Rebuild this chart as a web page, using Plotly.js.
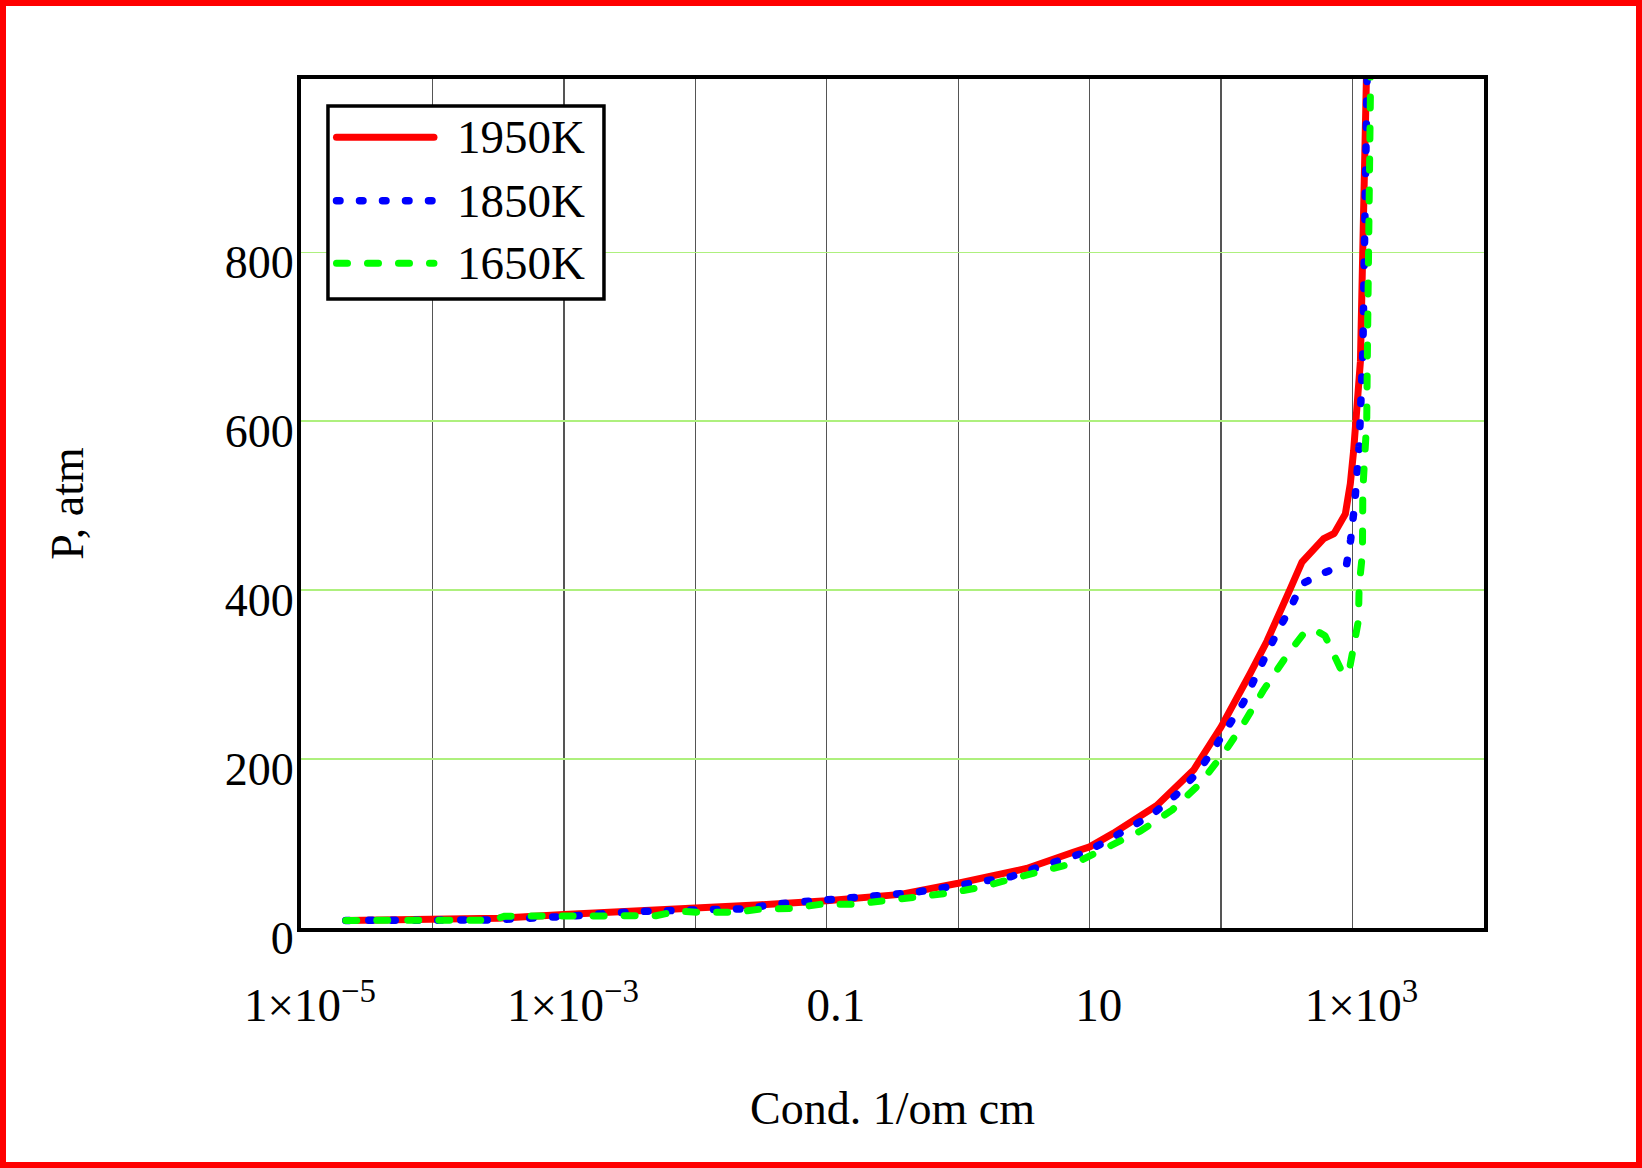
<!DOCTYPE html>
<html>
<head>
<meta charset="utf-8">
<script src="https://cdn.plot.ly/plotly-3.0.1.min.js"></script>
<style>
  html, body { margin: 0; padding: 0; background: #fff; }
  #wrap { position: relative; width: 1642px; height: 1168px; overflow: hidden; }
  #plot { position: absolute; left: 0; top: 0; width: 1642px; height: 1168px; }
  #frame { position: absolute; left: 0; top: 0; width: 1642px; height: 1168px; box-sizing: border-box; border: 6px solid #ff0000; pointer-events: none; }
  .js-line { stroke-linecap: round !important; stroke-linejoin: round !important; }
  .shapelayer path { stroke-linecap: round !important; }
</style>
</head>
<body>
<div id="wrap"><div id="plot"></div><div id="frame"></div></div>
<script>
// ---- data ----
const cond1950 = [2.19e-5, 1e-4, 3.16e-4, 1e-3, 3.16e-3, 0.01, 0.0316, 0.1, 0.363, 1, 3.31, 7.59, 10, 15.1, 32.4, 61.7, 100, 166, 224, 339, 412, 603, 724, 881, 962, 1019, 1094, 1148, 1274, 1288];
const p1950    = [9, 9.6, 11.5, 16, 19.3, 22.8, 27.5, 32.3, 39.8, 53, 70.5, 90, 96, 112, 145, 187, 238, 301, 340, 403, 433, 461, 467, 490, 526, 565, 620, 671, 1004, 1040];

const cond1850 = [2.19e-5, 2.82e-4, 1e-3, 2.24e-3, 3.39e-3, 0.01, 0.0251, 0.038, 0.0891, 0.204, 0.447, 0.692, 1.10, 2.51, 3.72, 5.75, 8.71, 13.2, 20.0, 30.2, 45.7, 66.1, 87.1, 115, 148, 180, 219, 269, 337, 412, 617, 902, 966, 1035, 1122, 1189, 1197, 1288, 1303];
const p1850    = [9, 9.5, 13.6, 18.5, 19.3, 21.5, 22.8, 28, 32.3, 37, 41.7, 46.5, 51.6, 60.7, 70, 79.4, 88.3, 102, 118.6, 134.8, 158, 184, 211, 239, 267, 295, 323, 351, 379, 407.5, 421, 431, 459, 500, 570, 640, 681, 1000, 1040];

const cond1650 = [2.19e-5, 2.82e-4, 3.55e-4, 5.01e-3, 7.41e-3, 0.011, 0.02, 0.0331, 0.0525, 0.0891, 0.158, 0.251, 0.501, 0.891, 1.55, 2.63, 4.73, 7.94, 13.8, 24.3, 42.3, 69.2, 107, 151, 209, 282, 324, 427, 501, 617, 692, 832, 933, 1047, 1109, 1122, 1189, 1197, 1245, 1282, 1294, 1365, 1380];
const p1650    = [9, 9.2, 14, 14.5, 20, 18.5, 18.5, 22.8, 23, 28, 28, 32.3, 37, 41.8, 48.9, 58.7, 67.8, 77.6, 96, 114.7, 139.5, 171, 209, 244, 281, 313, 325, 349, 354, 346, 329, 303, 301, 337, 364, 405, 443, 518, 557, 600, 668, 1002, 1040];

const seriesNames = ['1950K', '1850K', '1650K'];
const xTickVals = [1e-5, 1e-4, 1e-3, 1e-2, 0.1, 1, 10, 100, 1e3, 1e4];
const xTickText = ['1×10<sup>−5</sup>', '', '1×10<sup>−3</sup>', '', '0.1', '', '10', '', '1×10<sup>3</sup>', ''];
const yTickVals = [0, 200, 400, 600, 800];
const yTickText = ['0', '200', '400', '600', '800'];

const FONT = '"Liberation Serif", "Times New Roman", Times, serif';
const colors = ['#ff0000', '#0000ff', '#00ff00'];
const dashes = ['solid', '3.5px,19.5px', '11px,20px'];
const widths = [7, 7.5, 7];

const traces = [
  {x: cond1950, y: p1950, name: seriesNames[0], mode: 'lines', line: {color: colors[0], width: widths[0], dash: dashes[0]}},
  {x: cond1850, y: p1850, name: seriesNames[1], mode: 'lines', line: {color: colors[1], width: widths[1], dash: dashes[1]}},
  {x: cond1650, y: p1650, name: seriesNames[2], mode: 'lines', line: {color: colors[2], width: widths[2], dash: dashes[2]}}
];

// custom legend (box, samples, labels) in paper coordinates
const legRows = [0.9313, 0.8566, 0.7829];
const shapes = [{
  type: 'rect', xref: 'paper', yref: 'paper', x0: 0.0228, x1: 0.2561, y0: 0.7409, y1: 0.9682,
  line: {color: '#000', width: 3.5}, fillcolor: '#fff', layer: 'above'
}];
const annotations = [];
legRows.forEach((yy, i) => {
  shapes.push({type: 'line', xref: 'paper', yref: 'paper', x0: 0.0300, x1: 0.1124, y0: yy, y1: yy,
    line: {color: colors[i], width: widths[i], dash: dashes[i]}, layer: 'above'});
  annotations.push({xref: 'paper', yref: 'paper', x: 0.1300, y: yy, xanchor: 'left', yanchor: 'middle',
    text: seriesNames[i], showarrow: false, font: {family: FONT, size: 47, color: '#000'}});
});

const layout = {
  width: 1642, height: 1168,
  margin: {l: 301, r: 158, t: 79, b: 240, pad: 0},
  paper_bgcolor: '#fff', plot_bgcolor: '#fff',
  showlegend: false,
  font: {family: FONT, size: 46, color: '#000'},
  xaxis: {
    type: 'log', range: [-5, 4], autorange: false,
    tickmode: 'array', tickvals: xTickVals, ticktext: xTickText,
    showgrid: true, gridcolor: '#555', gridwidth: 1.3,
    showline: true, linecolor: '#000', linewidth: 4, mirror: true,
    ticks: '', ticklen: 0, zeroline: false, automargin: false,
    tickfont: {family: FONT, size: 47, color: '#000'},
    ticklabelstandoff: 33, ticklabelshift: 9,
    title: {text: 'Cond. 1/om cm', font: {family: FONT, size: 46, color: '#000'}, standoff: 62}
  },
  yaxis: {
    range: [0, 1005], autorange: false,
    tickmode: 'array', tickvals: yTickVals, ticktext: yTickText,
    showgrid: true, gridcolor: '#aef07e', gridwidth: 1.3,
    showline: true, linecolor: '#000', linewidth: 4, mirror: true,
    ticks: '', ticklen: 0, zeroline: false, automargin: false,
    tickfont: {family: FONT, size: 46, color: '#000'},
    ticklabelstandoff: -6, ticklabelshift: 10,
    title: {text: 'P, atm', font: {family: FONT, size: 46, color: '#000'}, standoff: 128}
  },
  shapes: shapes,
  annotations: annotations
};

Plotly.newPlot('plot', traces, layout, {staticPlot: true, displayModeBar: false});
</script>
</body>
</html>
